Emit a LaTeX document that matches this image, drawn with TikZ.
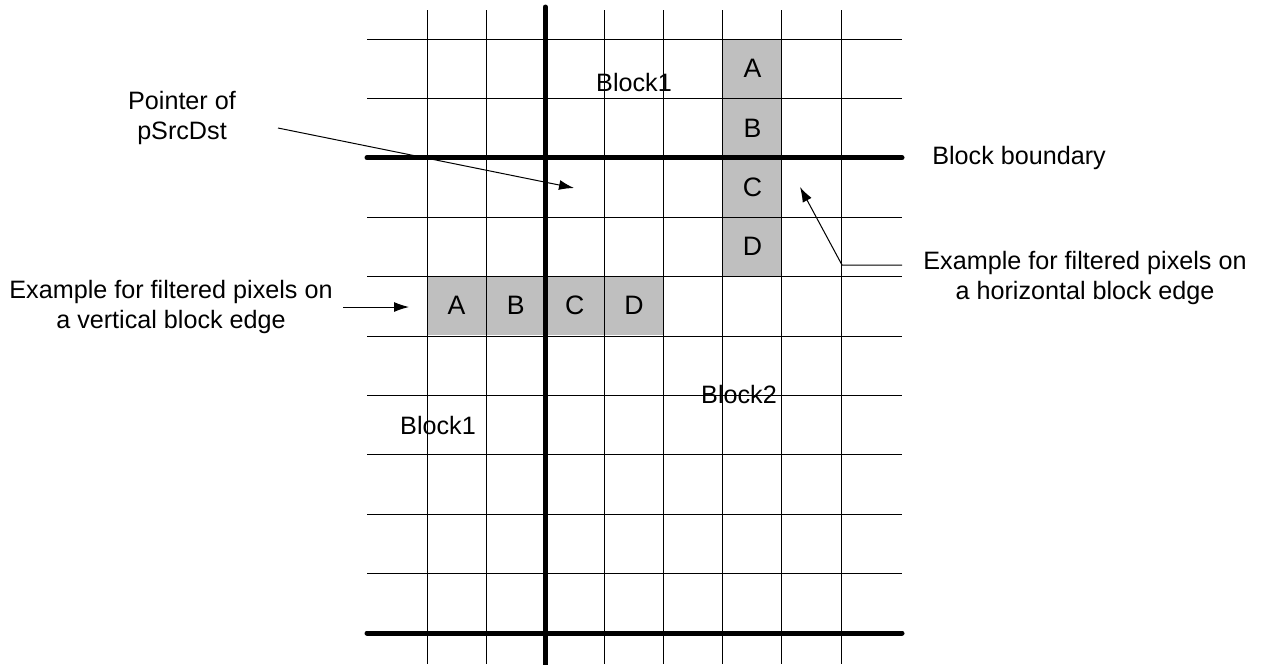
\documentclass[tikz,border=0pt]{standalone}
\usepackage{fontspec}
\setmainfont{Liberation Sans}
\usetikzlibrary{arrows.meta}
\begin{document}
\begin{tikzpicture}[
    x=0.6pt,
    y=-0.6pt,
    every node/.style={font=\fontsize{15.1pt}{17.6pt}\selectfont},
    grade/.style={line width=0.6pt},
    fronteira/.style={line width=3pt, line cap=round},
    pixel/.style={fill=gray!50},
    rotulo/.style={align=center, inner sep=0pt},
    letra/.style={rotulo, font=\fontsize{16pt}{18pt}\selectfont},
    seta/.style={-{Latex[length=9pt, width=6pt]}, line width=0.6pt}
]
\useasboundingbox (0,0) rectangle (1264,664);

% Pixels filtrados:
% coluna sobre a borda horizontal e linha sobre a borda vertical.
\fill[pixel] (723,39) rectangle (782,276);
\fill[pixel] (427,276) rectangle (664,335);

% Grade de pixels:
% linhas finas verticais e horizontais com passo de uma célula.
\foreach \i in {0,1,3,4,5,6,7}
    \draw[grade] (427+59.15*\i,10) -- (427+59.15*\i,664);
\foreach \j in {0,1,3,4,5,6,7,8,9}
    \draw[grade] (367,39+59.4*\j) -- (902,39+59.4*\j);

% Fronteiras dos blocos:
% uma vertical e duas horizontais, em traço grosso.
\draw[fronteira] (545.3,7) -- (545.3,680);
\draw[fronteira] (367,157.8) -- (902,157.8);
\draw[fronteira] (367,633) -- (902,633);

% Letras dos pixels:
\foreach \l [count=\k from 0] in {A,B,C,D} {
    \node[letra] (col\l) at (752.5,68.5+59.4*\k) {\l};
    \node[letra] (lin\l) at (456.5+59.15*\k,305.5) {\l};
}

% Nomes dos blocos:
\node[rotulo] (blocoA) at (634,82) {Block1};
\node[rotulo] (blocoB) at (739,394) {Block2};
\node[rotulo] (blocoC) at (438,425) {Block1};

% Ponteiro pSrcDst:
\node[rotulo] (ponteiro) at (182,118) {Pointer of\\pSrcDst};
\coordinate (ponteiroIni) at (278,128);
\coordinate (ponteiroFim) at (574,188);
\draw[seta] (ponteiroIni) -- (ponteiroFim);

% Legenda da fronteira:
\node[rotulo, anchor=west] (fronteiraTxt) at (932,158) {Block boundary};

% Exemplo na borda vertical:
\node[rotulo] (vertTxt) at (171,307) {Example for filtered pixels on\\a vertical block edge};
\coordinate (vertIni) at (343,307);
\coordinate (vertFim) at (409,307);
\draw[seta] (vertIni) -- (vertFim);

% Exemplo na borda horizontal:
\node[rotulo] (horTxt) at (1085,278) {Example for filtered pixels on\\a horizontal block edge};
\coordinate (horIni) at (902,265);
\coordinate (horCanto) at (842,265);
\coordinate (horFim) at (800,187);
\draw[seta] (horIni) -- (horCanto) -- (horFim);

\end{tikzpicture}
\end{document}
